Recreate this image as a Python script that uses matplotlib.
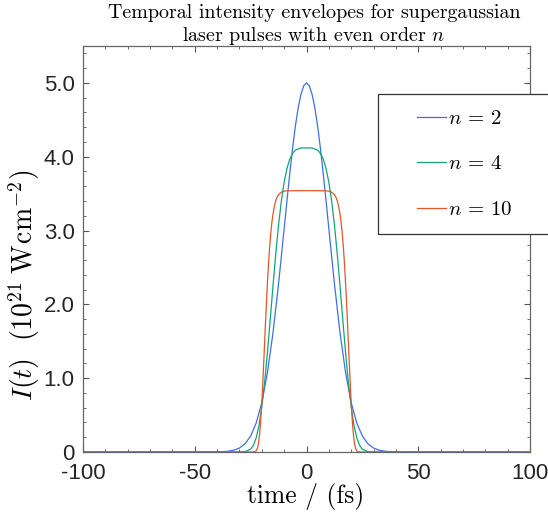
import matplotlib
matplotlib.use('Agg')
import matplotlib.pyplot as plt
from matplotlib.patches import Rectangle
from matplotlib.ticker import MultipleLocator

# values (time in fs, intensity in 1e21 W/cm^2)
t_n2 = [-100, -45, -40, -37.5, -35, -32.5, -30, -27.5, -25, -22.5, -20, -17.5, -15, -12.5, -10, -8.75, -7.5, -6.25,
        -5, -3.75, -2.5, -1.25, 0, 1.25, 2.5, 3.75, 5, 6.25, 7.5, 8.75, 10, 12.5, 15, 17.5, 20, 22.5, 25, 27.5,
        30, 32.5, 35, 37.5, 40, 45, 100]
i_n2 = [0, 0, 0.002, 0.004, 0.011, 0.025, 0.054, 0.111, 0.216, 0.392, 0.668, 1.072, 1.612, 2.279, 3.024, 3.402, 3.768, 4.108,
        4.409, 4.659, 4.845, 4.961, 5.0, 4.961, 4.845, 4.659, 4.409, 4.108, 3.768, 3.402, 3.024, 2.279, 1.612, 1.072, 0.668, 0.392, 0.216, 0.111,
        0.054, 0.025, 0.011, 0.004, 0.002, 0, 0]

t_n4 = [-100, -30, -27.5, -25, -23.75, -22.5, -21.25, -20, -18.75, -17.5, -16.25, -15, -13.75, -12.5, -11.25, -10, -8.75,
        -7.5, -6.25, -5, -2.5, 0, 2.5, 5, 6.25, 7.5, 8.75, 10, 11.25, 12.5, 13.75, 15, 16.25, 17.5, 18.75, 20,
        21.25, 22.5, 23.75, 25, 27.5, 30, 100]
i_n4 = [0, 0, 0.004, 0.038, 0.091, 0.192, 0.359, 0.607, 0.938, 1.340, 1.788, 2.247, 2.685, 3.076, 3.401, 3.655, 3.841,
        3.967, 4.045, 4.089, 4.118, 4.12, 4.118, 4.089, 4.045, 3.967, 3.841, 3.655, 3.401, 3.076, 2.685, 2.247, 1.788, 1.340, 0.938, 0.607,
        0.359, 0.192, 0.091, 0.038, 0.004, 0, 0]

t_n10 = [-100, -24, -23, -22.5, -22, -21.5, -21, -20.5, -20, -19.5, -19, -18.5, -18, -17.5, -17, -16.5, -16, -15.5,
         -15, -14.5, -14, -13.5, -13, -12.5, -11, -10, -9, -5, 0, 5, 9, 10, 11, 12.5, 13, 13.5, 14, 14.5, 15,
         15.5, 16, 16.5, 17, 17.5, 18, 18.5, 19, 19.5, 20, 20.5, 21, 21.5, 22, 22.5, 23, 24, 100]
i_n10 = [0, 0, 0.004, 0.016, 0.047, 0.113, 0.233, 0.417, 0.666, 0.968, 1.302, 1.646, 1.978, 2.281, 2.548, 2.774, 2.959, 3.107,
         3.222, 3.311, 3.377, 3.426, 3.461, 3.487, 3.525, 3.534, 3.538, 3.54, 3.54, 3.54, 3.538, 3.534, 3.525, 3.487, 3.461, 3.426, 3.377, 3.311, 3.222,
         3.107, 2.959, 2.774, 2.548, 2.281, 1.978, 1.646, 1.302, 0.968, 0.666, 0.417, 0.233, 0.113, 0.047, 0.016, 0.004, 0, 0]

labels = [r'$n\,=\,2$', r'$n\,=\,4$', r'$n\,=\,10$']
colors = ['#3f6fe6', '#12a37e', '#e0572b']

xticks = [-100, -50, 0, 50, 100]
yticks = [0, 1, 2, 3, 4, 5]
yticklabels = ['0', '1.0', '2.0', '3.0', '4.0', '5.0']

plt.rcParams['mathtext.fontset'] = 'cm'
plt.rcParams['axes.unicode_minus'] = False
plt.rcParams['font.family'] = 'Liberation Sans'

W, H = 548, 512
fig = plt.figure(figsize=(W / 100, H / 100), dpi=100)
ax = fig.add_axes([83 / W, 1 - 452 / H, (530 - 83) / W, (452 - 46) / H])

for t, i, c, lab in zip([t_n2, t_n4, t_n10], [i_n2, i_n4, i_n10], colors, labels):
    ax.plot(t, i, color=c, lw=0.9, label=lab)

ax.set_xlim(-100, 100)
ax.set_ylim(0, 5.5)
ax.set_xticks(xticks)
ax.set_yticks(yticks)
ax.set_yticklabels(yticklabels)
ax.xaxis.set_minor_locator(MultipleLocator(10))
ax.yaxis.set_minor_locator(MultipleLocator(0.2))
ax.tick_params(which='both', direction='in', top=True, right=True, color='#555555', labelsize=16, labelcolor='#262626')
ax.tick_params(which='major', length=4, width=0.8)
ax.tick_params(which='minor', length=2, width=0.6)
ax.tick_params(axis='x', pad=8)
ax.tick_params(axis='y', pad=6)
for s in ax.spines.values():
    s.set_color('#666666')
    s.set_linewidth(0.9)

# titles and labels in Computer Modern
fig.text(314 / W, 1 - 13 / H, 'Temporal intensity envelopes for supergaussian',
         family='cmr10', fontsize=14.4, ha='center', va='center')
fig.text(314 / W, 1 - 36 / H, 'laser pulses with even order $n$',
         family='cmr10', fontsize=14.4, ha='center', va='center')
fig.text(306 / W, 1 - 497 / H, 'time / (fs)', family='cmr10', fontsize=18.4, ha='center', va='center')
fig.text(24 / W, 1 - 285 / H, r'$I(t)\ \ (10^{21}\;\mathrm{W\!\:cm}^{-2})$', fontsize=20,
         rotation=90, ha='center', va='center')

# legend box sticking out past the right edge
fig.patches.append(Rectangle((378 / W, 1 - 234 / H), (560 - 378) / W, (234 - 94) / H,
                             transform=fig.transFigure, facecolor='white', edgecolor='#333333',
                             lw=0.9, zorder=5))
leg = ax.legend(loc='center left', bbox_to_anchor=(417 / W, 1 - 164 / H), bbox_transform=fig.transFigure,
                frameon=False, fontsize=15, handlelength=1.4, handletextpad=0.1, labelspacing=1.27,
                borderpad=0, borderaxespad=0)
leg.remove()
fig.add_artist(leg)
leg.set_zorder(6)

fig.savefig('out.png', dpi=100)
